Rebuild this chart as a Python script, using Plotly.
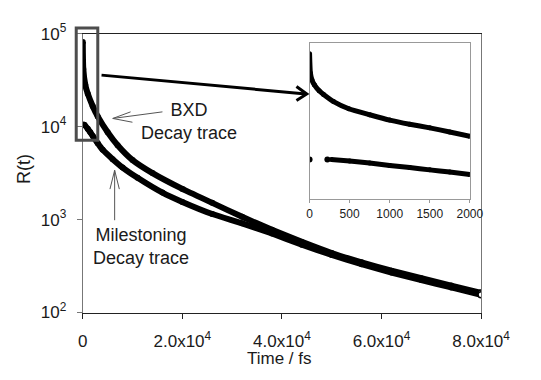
import plotly.graph_objects as go

W, H = 541, 380

# ---------------- data ----------------
# main plot: Time / fs  vs  R(t)
bxd_t = [0, 100, 500, 1000, 2000, 3000, 5000, 7000, 10000, 14000, 20000, 26000,
         32000, 38000, 44000, 50000, 56000, 62000, 68000, 74000, 80000]
bxd_log = [4.91, 4.62, 4.45, 4.355, 4.22, 4.11, 3.94, 3.80, 3.64, 3.50, 3.33, 3.18,
           3.03, 2.89, 2.76, 2.64, 2.54, 2.45, 2.37, 2.29, 2.21]
mil_t = [0, 300, 1000, 1500, 2000, 3000, 4000, 6000, 8000, 11000, 16000, 20000,
         26000, 32000, 38000, 44000, 50000, 56000, 62000, 68000, 74000, 80000]
mil_log = [4.02, 4.02, 3.976, 3.94, 3.90, 3.82, 3.75, 3.65, 3.56, 3.45, 3.29, 3.19,
           3.06, 2.96, 2.85, 2.73, 2.62, 2.52, 2.43, 2.35, 2.27, 2.19]
bxd_R = [10 ** v for v in bxd_log]
mil_R = [10 ** v for v in mil_log]

# inset: first 2000 fs
ins_bxd_t = [0, 10, 30, 60, 120, 175, 300, 490, 750, 1000, 1250, 1500, 1750, 2000]
ins_bxd_log = [4.91, 4.75, 4.69, 4.65, 4.60, 4.57, 4.51, 4.45, 4.40, 4.355, 4.32, 4.29, 4.255, 4.22]
ins_mil_t = [270, 500, 750, 1000, 1250, 1500, 1750, 2000]
ins_mil_log = [4.024, 4.012, 3.995, 3.975, 3.958, 3.938, 3.92, 3.90]
ins_mil_pts_t = [0, 222]
ins_mil_pts_log = [4.024, 4.024]
ins_bxd_R = [10 ** v for v in ins_bxd_log]
ins_mil_R = [10 ** v for v in ins_mil_log]
ins_mil_pts_R = [10 ** v for v in ins_mil_pts_log]

x_tickvals = [0, 20000, 40000, 60000, 80000]
x_ticktext = ["0", "2.0x10<sup>4</sup>", "4.0x10<sup>4</sup>", "6.0x10<sup>4</sup>", "8.0x10<sup>4</sup>"]
y_tickvals = [100, 1000, 10000, 100000]
y_ticktext = ["10<sup>2</sup>", "10<sup>3</sup>", "10<sup>4</sup>", "10<sup>5</sup>"]
ins_x_tickvals = [0, 500, 1000, 1500, 2000]

# ---------------- helpers ----------------
def px(x):
    return x / W

def py(y):
    return 1 - y / H

FONT = "Liberation Sans, Arial, sans-serif"
TXT = "#1a1a1a"

fig = go.Figure()

main_line = dict(color="black", width=6, shape="spline", smoothing=0.6)
fig.add_trace(go.Scatter(x=bxd_t, y=bxd_R, mode="lines+markers", line=main_line,
                         marker=dict(size=6, color="black"), xaxis="x", yaxis="y",
                         showlegend=False, name="BXD"))
fig.add_trace(go.Scatter(x=mil_t, y=mil_R, mode="lines+markers", line=main_line,
                         marker=dict(size=6, color="black"), xaxis="x", yaxis="y",
                         showlegend=False, name="Milestoning"))
# open circles at the end of the traces
fig.add_trace(go.Scatter(x=[bxd_t[-1], mil_t[-1]], y=[bxd_R[-1], mil_R[-1]], mode="markers",
                         marker=dict(size=6, color="white", line=dict(color="black", width=1.5)),
                         xaxis="x", yaxis="y", showlegend=False))

ins_line = dict(color="black", width=5, shape="spline", smoothing=0.5)
fig.add_trace(go.Scatter(x=ins_bxd_t, y=ins_bxd_R, mode="lines+markers", line=ins_line,
                         marker=dict(size=5, color="black"), xaxis="x2", yaxis="y2",
                         showlegend=False))
fig.add_trace(go.Scatter(x=ins_mil_t, y=ins_mil_R, mode="lines+markers", line=ins_line,
                         marker=dict(size=5, color="black"), xaxis="x2", yaxis="y2",
                         showlegend=False))
fig.add_trace(go.Scatter(x=ins_mil_pts_t, y=ins_mil_pts_R, mode="markers",
                         marker=dict(size=6, color="black"), xaxis="x2", yaxis="y2",
                         showlegend=False))

shapes = []
# zoom rectangle
shapes.append(dict(type="rect", xref="paper", yref="paper", x0=px(76), x1=px(99),
                   y0=py(136), y1=py(17), line=dict(color="#4d4d4d", width=3, dash="solid")))
# big arrow
shapes.append(dict(type="line", xref="paper", yref="paper", x0=px(103), y0=py(67),
                   x1=px(321), y1=py(87), line=dict(color="black", width=3)))
shapes.append(dict(type="path", xref="paper", yref="paper",
                   path=f"M {px(311)},{py(79)} L {px(322)},{py(87)} L {px(311)},{py(94)}",
                   line=dict(color="black", width=3)))
# BXD pointer arrow
shapes.append(dict(type="path", xref="paper", yref="paper",
                   path=f"M {px(168)},{py(106)} L {px(115)},{py(113)}",
                   line=dict(color="#555", width=1)))
shapes.append(dict(type="path", xref="paper", yref="paper",
                   path=f"M {px(134)},{py(106)} L {px(115)},{py(113)} L {px(136)},{py(117)}",
                   line=dict(color="#555", width=1)))
# Milestoning pointer arrow
shapes.append(dict(type="path", xref="paper", yref="paper",
                   path=f"M {px(117)},{py(221)} L {px(117)},{py(168)}",
                   line=dict(color="#555", width=1)))
shapes.append(dict(type="path", xref="paper", yref="paper",
                   path=f"M {px(112)},{py(188)} L {px(117)},{py(168)} L {px(122)},{py(188)}",
                   line=dict(color="#555", width=1)))

def note(text, x, y, size=18, angle=0):
    return dict(text=text, x=px(x), y=py(y), xref="paper", yref="paper",
                xanchor="center", yanchor="middle", textangle=angle,
                showarrow=False, align="center",
                font=dict(size=size, color=TXT, family=FONT))

annotations = [
    note("BXD<br>Decay trace", 196, 116),
    note("Milestoning<br>Decay trace", 145, 249),
    note("Time / fs", 293, 368, size=17),
    note("R(t)", 21, 167),
]
annotations[-1]["textangle"] = -90

fig.update_layout(
    width=W, height=H,
    margin=dict(l=0, r=0, t=0, b=0),
    paper_bgcolor="white", plot_bgcolor="white",
    font=dict(family=FONT, color=TXT),
    xaxis=dict(domain=[px(83), px(508)], range=[0, 80000], tickvals=x_tickvals,
               ticktext=x_ticktext, showgrid=False, zeroline=False, showline=True,
               linecolor="#222", linewidth=1, mirror=True, ticks="outside", ticklen=5,
               tickcolor="#222", tickfont=dict(size=17, family=FONT, color=TXT),
               ticklabelstandoff=8, anchor="y"),
    yaxis=dict(domain=[py(319), py(23)], type="log", range=[2, 5], tickvals=y_tickvals,
               ticktext=y_ticktext, showgrid=False, zeroline=False, showline=True,
               linecolor="#777", linewidth=1, mirror=True, ticks="outside", ticklen=5,
               tickcolor="#777", tickfont=dict(size=17, family=FONT, color=TXT),
               ticklabelstandoff=7, anchor="x"),
    xaxis2=dict(domain=[px(325), px(496)], range=[0, 2000], tickvals=ins_x_tickvals,
                showgrid=False, zeroline=False, showline=True, linecolor="#999",
                linewidth=1, mirror=True, ticks="outside", ticklen=3, tickcolor="#999",
                tickfont=dict(size=12, family=FONT, color=TXT), anchor="y2"),
    yaxis2=dict(domain=[py(199), py(33)], type="log", range=[3.69, 5.0],
                showticklabels=False, showgrid=False, zeroline=False, showline=True,
                linecolor="#999", linewidth=1, mirror=True, ticks="", anchor="x2"),
    shapes=shapes,
    annotations=annotations,
)

fig.write_html(
    "out.html",
    post_script="document.documentElement.style.margin='0';document.body.style.margin='0';"
                "document.body.style.padding='0';document.documentElement.style.overflow='hidden';"
                "var g=document.getElementsByClassName('plotly-graph-div')[0];"
                "g.style.position='fixed';g.style.left='0px';g.style.top='0px';",
)
